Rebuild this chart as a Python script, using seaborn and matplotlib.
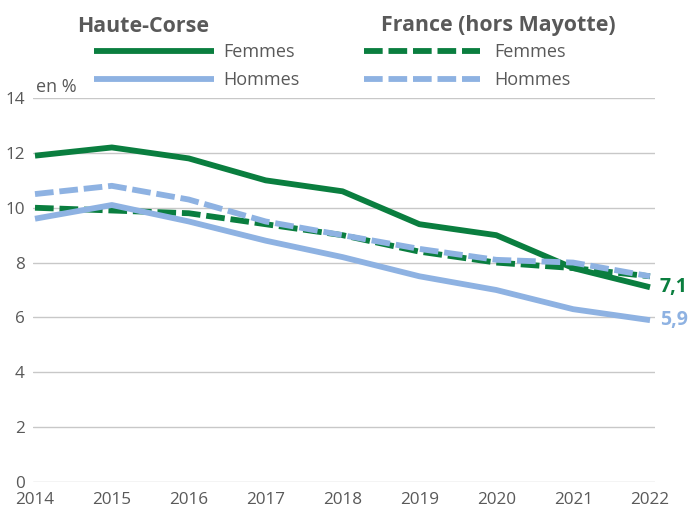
import pandas as pd
import matplotlib.pyplot as plt
import seaborn as sns
from matplotlib.lines import Line2D

years = [2014, 2015, 2016, 2017, 2018, 2019, 2020, 2021, 2022]
hc_femmes = [11.9, 12.2, 11.8, 11.0, 10.6, 9.4, 9.0, 7.8, 7.1]
hc_hommes = [9.6, 10.1, 9.5, 8.8, 8.2, 7.5, 7.0, 6.3, 5.9]
fr_femmes = [10.0, 9.9, 9.8, 9.4, 9.0, 8.4, 8.0, 7.8, 7.5]
fr_hommes = [10.5, 10.8, 10.3, 9.5, 9.0, 8.5, 8.1, 8.0, 7.5]

green = '#0a7e3f'
blue = '#8eb2e2'
grey = '#595959'
lw = 4.2
dash = (3.2, 1.0)

sns.set_style('white')
plt.rcParams['font.family'] = ['Open Sans', 'DejaVu Sans']

fig = plt.figure(figsize=(6.92, 5.11), dpi=100)
ax = fig.add_axes([33 / 692, 0.057, 622 / 692, 0.751])

# draw order: green dashed, green solid, blue solid, blue dashed
sns.lineplot(x=years, y=fr_femmes, ax=ax, color=green, linewidth=lw)
ax.lines[-1].set_dashes(dash)
sns.lineplot(x=years, y=hc_femmes, ax=ax, color=green, linewidth=lw)
sns.lineplot(x=years, y=hc_hommes, ax=ax, color=blue, linewidth=lw)
sns.lineplot(x=years, y=fr_hommes, ax=ax, color=blue, linewidth=lw)
ax.lines[-1].set_dashes(dash)
for ln in ax.lines:
    ln.set_solid_capstyle('butt')
    ln.set_dash_capstyle('butt')

ax.set_xlim(2013.974, 2022.065)
ax.set_ylim(0, 14)
ax.set_xticks(years)
ax.set_yticks(range(0, 15, 2))
ax.grid(axis='y', color='#c8c8c8', linewidth=1)
ax.set_axisbelow(True)
sns.despine(ax=ax, left=True, bottom=True)
ax.tick_params(axis='both', length=0, labelsize=12.3, colors=grey)
ax.tick_params(axis='x', pad=7)
ax.tick_params(axis='y', pad=6)

ax.text(3 / 622, 1.005, 'en %', transform=ax.transAxes, fontsize=13, color=grey, va='bottom', ha='left')

ax.annotate('7,1', xy=(years[-1], hc_femmes[-1]), xytext=(7, 0), textcoords='offset points',
            color=green, fontsize=14, fontweight='bold', va='center', ha='left', annotation_clip=False)
ax.annotate('5,9', xy=(years[-1], hc_hommes[-1]), xytext=(7, 0), textcoords='offset points',
            color=blue, fontsize=14, fontweight='bold', va='center', ha='left', annotation_clip=False)

# legends (titles as separate texts)
labels = ['Femmes', 'Hommes']
h1 = [Line2D([], [], color=green, lw=lw, solid_capstyle='butt'),
      Line2D([], [], color=blue, lw=lw, solid_capstyle='butt')]
h2 = [Line2D([], [], color=green, lw=lw, dashes=dash, dash_capstyle='butt'),
      Line2D([], [], color=blue, lw=lw, dashes=dash, dash_capstyle='butt')]
leg1 = fig.legend(h1, labels, loc='upper left', bbox_to_anchor=(94 / 692, 0.916),
                  frameon=False, fontsize=13, handlelength=6.65, handletextpad=0.5,
                  labelspacing=0.55, borderpad=0, borderaxespad=0)
leg2 = fig.legend(h2, labels, loc='upper left', bbox_to_anchor=(364 / 692, 0.916),
                  frameon=False, fontsize=13, handlelength=6.4, handletextpad=0.83,
                  labelspacing=0.55, borderpad=0, borderaxespad=0)
for leg in (leg1, leg2):
    for t in leg.get_texts():
        t.set_color(grey)

fig.text(77 / 692, 1 - 26 / 511, 'Haute-Corse', fontsize=15.4, fontweight='bold', color=grey, va='center')
fig.text(381 / 692, 1 - 26 / 511, 'France (hors Mayotte)', fontsize=15.4, fontweight='bold', color=grey, va='center')

fig.savefig('out.png', dpi=100)
